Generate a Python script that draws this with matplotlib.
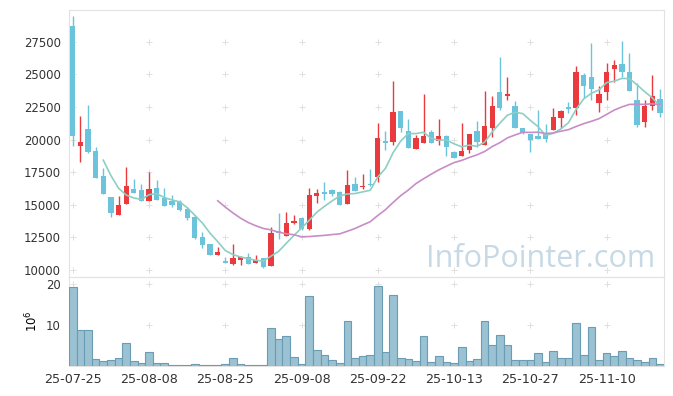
import numpy as np
import pandas as pd
import matplotlib
matplotlib.use("Agg")
import matplotlib.pyplot as plt

# OHLC (KRW), one entry per trading day
opens = [28700, 19530, 20810, 19120, 17200, 15600, 14220, 15080, 16210, 16130,
         15310, 16290, 15520, 15310, 15210, 14680, 14090, 12530, 11990, 11180,
         10690, 10490, 10790, 10970, 10560, 10920, 10330, 12990, 12630, 13630,
         13960, 13120, 15700, 15980, 16110, 15980, 15080, 16590, 16360, 16620,
         17150, 19860, 19840, 22190, 20630, 19300, 19760, 20550, 19910, 20270,
         19050, 18760, 19220, 20650, 19610, 20910, 23640, 23360, 22570, 20880,
         20400, 20270, 20400, 20730, 21680, 22520, 22440, 24950, 24790, 22830,
         23640, 25430, 25790, 25180, 23030, 21370, 22570, 23110]
highs = [29470, 21800, 22620, 19450, 17840, 15600, 15650, 17870, 16950, 16620,
         17510, 16870, 16260, 15750, 15390, 14850, 14240, 12890, 12010, 11740,
         10970, 11970, 11070, 11280, 11180, 10950, 13320, 14340, 14450, 14240,
         14040, 16260, 16210, 16770, 16210, 16080, 17670, 17100, 17360, 17720,
         21240, 20630, 24460, 22190, 21550, 20370, 23470, 20730, 21570, 20350,
         19150, 21240, 20420, 21420, 23720, 23340, 26300, 24770, 22950, 20900,
         20420, 22260, 21170, 22440, 22260, 22850, 25660, 25070, 27430, 24100,
         25840, 26100, 27580, 26610, 24310, 23030, 24950, 23850]
lows = [19530, 18300, 19000, 17030, 15800, 14040, 14190, 15050, 15880, 15260,
        15290, 15360, 14880, 14850, 14550, 13830, 12400, 11660, 11130, 11120,
        10510, 10380, 10380, 10480, 10510, 10130, 10300, 12400, 12600, 13500,
        13070, 13090, 15110, 15340, 15650, 14960, 15060, 16030, 16230, 16440,
        16720, 19200, 19560, 20600, 19330, 19280, 19740, 19710, 19560, 18760,
        18590, 18740, 18940, 19450, 19560, 20220, 22260, 23030, 20880, 20400,
        19020, 20050, 19790, 20710, 20910, 22010, 21880, 23160, 23030, 22140,
        23030, 24440, 24820, 23730, 20960, 20990, 22260, 21750]
closes = [20300, 19810, 19050, 17080, 15850, 14390, 14980, 16440, 15930, 15310,
          16210, 15390, 14930, 15010, 14600, 13990, 12450, 11920, 11150, 11380,
          10560, 10920, 10970, 10490, 10790, 10260, 12810, 12810, 13580, 13780,
          13120, 15750, 15900, 15850, 15850, 15010, 16520, 16080, 16460, 16490,
          20140, 19760, 22110, 20910, 19380, 20120, 20270, 19760, 20270, 19450,
          18610, 19120, 20400, 19810, 21040, 22570, 22440, 23490, 20910, 20530,
          19990, 20070, 20070, 21730, 22190, 22370, 25200, 24100, 23870, 23490,
          25180, 25710, 25200, 23750, 21110, 22570, 23340, 22060]

# volume, millions of shares
volumes = [19.3, 8.9, 8.9, 1.7, 1.4, 1.6, 2.0, 5.8, 1.4, 0.9,
           3.6, 0.9, 0.7, 0.2, 0.2, 0.2, 0.6, 0.2, 0.2, 0.2,
           0.6, 2.1, 0.5, 0.2, 0.2, 0.2, 9.3, 6.7, 7.5, 2.2,
           0.5, 17.2, 4.0, 2.7, 1.5, 0.75, 11.0, 2.0, 2.5, 2.7,
           19.7, 3.5, 17.4, 2.0, 1.7, 1.2, 7.5, 1.0, 2.5, 1.0,
           0.75, 4.7, 1.2, 1.7, 11.0, 5.2, 7.7, 5.2, 1.5, 1.5,
           1.5, 3.2, 1.0, 3.7, 2.0, 2.0, 10.5, 2.7, 9.7, 1.5,
           3.2, 2.5, 3.7, 2.0, 1.5, 1.0, 2.0, 0.5]

tick_idx = [0, 10, 20, 30, 40, 50, 60, 70]
tick_labels = ['25-07-25', '25-08-08', '25-08-25', '25-09-08',
               '25-09-22', '25-10-13', '25-10-27', '25-11-10']
price_ticks = [10000, 12500, 15000, 17500, 20000, 22500, 25000, 27500]
vol_ticks = [10, 20]

df = pd.DataFrame({'open': opens, 'high': highs, 'low': lows,
                   'close': closes, 'volume': volumes})
df['ma5'] = df['close'].rolling(5).mean()
df['ma20'] = df['close'].rolling(20).mean()
x = np.arange(len(df))

plt.rcParams['font.family'] = 'DejaVu Sans'
plt.rcParams['font.size'] = 8.4
plt.rcParams['text.color'] = '#333333'

up_col = '#ea3a3e'
down_col = '#6cc3dc'
edge_col = '#e2e2e2'

fig = plt.figure(figsize=(6.73, 3.96), dpi=100)
ax = fig.add_axes([0.1025, 0.3005, 0.8838, 0.6742])
axv = fig.add_axes([0.1025, 0.075, 0.8838, 0.2255], sharex=ax)

# candles
is_up = df['close'] >= df['open']
colors = np.where(is_up, up_col, down_col)
body_lo = np.minimum(df['open'], df['close'])
body_h = (df['close'] - df['open']).abs()
ax.vlines(x, df['low'], df['high'], colors=colors, linewidth=1.0, zorder=3)
ax.bar(x, body_h, bottom=body_lo, width=0.7, color=colors, linewidth=0, zorder=4)

ax.plot(x, df['ma5'], color='#8ccfc4', linewidth=1.2, zorder=5)
ax.plot(x, df['ma20'], color='#c88dc6', linewidth=1.2, zorder=5)

# faint cross markers at grid intersections
gx, gy = np.meshgrid(tick_idx, price_ticks)
ax.plot(gx.ravel(), gy.ravel(), '+', color='#e0e0e0', markersize=4, mew=0.7, zorder=1)

ax.text(0.985, 0.037, 'InfoPointer.com', transform=ax.transAxes, ha='right',
        va='baseline', fontsize=22, color='#c6d9e5', family='Open Sans', zorder=0)

ax.set_xlim(-0.5, len(df) - 0.5)
ax.set_ylim(9463, 29929)
ax.set_yticks(price_ticks)
ax.tick_params(axis='both', length=0, pad=6, colors='#333333')
ax.tick_params(axis='x', labelbottom=False)
for s in ax.spines.values():
    s.set_color(edge_col)

# volume
axv.bar(x, df['volume'], width=1.0, color='#9bc2d2', edgecolor='#6a9db4',
        linewidth=0.8, zorder=3)
vx, vy = np.meshgrid(tick_idx, vol_ticks)
axv.plot(vx.ravel(), vy.ravel(), '+', color='#e0e0e0', markersize=4, mew=0.7, zorder=1)
axv.set_ylim(0, 21.8)
axv.set_yticks(vol_ticks)
axv.set_xticks(tick_idx)
axv.set_xticklabels(tick_labels)
axv.set_ylabel(r'$10^{6}$', labelpad=4)
axv.tick_params(axis='both', length=0, pad=6, colors='#333333')
axv.tick_params(axis='x', labelsize=9.2, pad=5)
for s in axv.spines.values():
    s.set_color(edge_col)

fig.savefig('out.png', dpi=100)
